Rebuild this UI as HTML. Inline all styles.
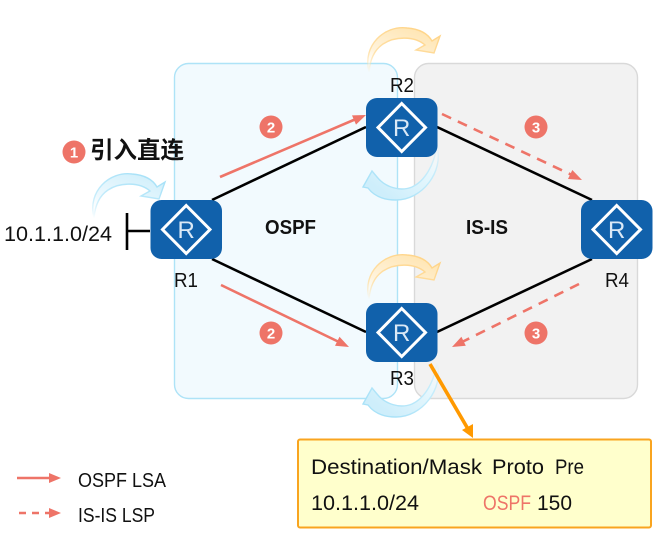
<!DOCTYPE html>
<html><head><meta charset="utf-8">
<style>
html,body{margin:0;padding:0;background:#fff;width:672px;height:556px;overflow:hidden}
svg{display:block}
text{font-family:"Liberation Sans","Noto Sans CJK SC",sans-serif;fill:#111}
</style></head>
<body>
<svg width="672" height="556" viewBox="0 0 672 556" xmlns="http://www.w3.org/2000/svg">
<defs>
<linearGradient id="og" x1="0" y1="1" x2="0.6" y2="0"><stop offset="0" stop-color="#fff" stop-opacity="0"/><stop offset="0.4" stop-color="#fff3dc"/><stop offset="1" stop-color="#ffe6b5"/></linearGradient>
<linearGradient id="os" x1="0" y1="1" x2="0.6" y2="0"><stop offset="0" stop-color="#ffd98f" stop-opacity="0"/><stop offset="0.4" stop-color="#ffe0a6"/><stop offset="1" stop-color="#ffd58a"/></linearGradient>
<linearGradient id="bg1" x1="0" y1="1" x2="0.6" y2="0"><stop offset="0" stop-color="#fff" stop-opacity="0"/><stop offset="0.4" stop-color="#eef9fe"/><stop offset="1" stop-color="#d3f0fb"/></linearGradient>
<linearGradient id="bs1" x1="0" y1="1" x2="0.6" y2="0"><stop offset="0" stop-color="#a9e2f8" stop-opacity="0"/><stop offset="0.4" stop-color="#c4ecfb"/><stop offset="1" stop-color="#a9e2f8"/></linearGradient>
<linearGradient id="bg2" x1="1" y1="0" x2="0.2" y2="0.8"><stop offset="0" stop-color="#fff" stop-opacity="0"/><stop offset="0.4" stop-color="#e6f7fd"/><stop offset="1" stop-color="#ceeefb"/></linearGradient>
<linearGradient id="bs2" x1="1" y1="0" x2="0.2" y2="0.8"><stop offset="0" stop-color="#a9e2f8" stop-opacity="0"/><stop offset="0.4" stop-color="#c4ecfb"/><stop offset="1" stop-color="#a9e2f8"/></linearGradient>
<g id="router">
<rect x="0" y="0" width="71.5" height="59" rx="11" fill="#1161ab"/>
<polygon points="35.7,5.5 59.5,29.5 35.7,53.5 12,29.5" fill="none" stroke="#fff" stroke-width="3"/>
<text x="35.7" y="38" font-size="24" text-anchor="middle" style="fill:#dbe9f6">R</text>
</g>
<path id="up" d="M369,72 C362,45 385,25 407,28 C420,29 428,34 432,41 L440,36 L434,53 L416,50 L425,45 C415,36 395,36 383,44 C374,50 370,60 369,72Z"/>
<path id="down" d="M437,146 C444,172 422,200 396,200 C384,200 374,196 368,188 L363,187 L372,171 L377,177 C385,187 400,192 412,187 C425,181 434,165 437,146Z"/>
</defs>

<rect x="174.5" y="63.5" width="223" height="335" rx="14" fill="#f2fafe" stroke="#aee3f7" stroke-width="1.4"/>
<rect x="414.5" y="63.5" width="223" height="335" rx="14" fill="#f2f2f2" stroke="#d9d9d9" stroke-width="1.4"/>

<g stroke="#000" stroke-width="2.6" fill="none">
<line x1="212" y1="200" x2="366" y2="127"/>
<line x1="212" y1="259" x2="366" y2="332"/>
<line x1="437" y1="127" x2="592" y2="200"/>
<line x1="437" y1="332" x2="592" y2="259"/>
<line x1="127" y1="213" x2="127" y2="250"/>
<line x1="127" y1="231" x2="150" y2="231"/>
</g>

<use href="#up" fill="url(#og)" stroke="url(#os)" stroke-width="1.4"/>
<use href="#up" y="227" fill="url(#og)" stroke="url(#os)" stroke-width="1.4"/>
<use href="#up" x="-275" y="146" fill="url(#bg1)" stroke="url(#bs1)" stroke-width="1.4"/>
<use href="#down" fill="url(#bg2)" stroke="url(#bs2)" stroke-width="1.4"/>

<use href="#router" x="150.5" y="200"/>
<use href="#router" x="366" y="98"/>
<use href="#router" x="366" y="303"/>
<use href="#router" x="581" y="200"/>

<use href="#down" y="217" fill="url(#bg2)" stroke="url(#bs2)" stroke-width="1.4"/>

<!-- pink arrows -->
<g stroke="#ee7468" stroke-width="2.6" fill="#ee7468">
<line x1="220" y1="177" x2="356" y2="119"/>
<line x1="221" y1="285" x2="339" y2="342"/>
<line x1="442" y1="114" x2="572" y2="175" stroke-dasharray="10 7.5"/>
<line x1="579" y1="284" x2="462" y2="342" stroke-dasharray="10 7.5"/>
<line x1="17" y1="478" x2="50" y2="478"/>
<line x1="17" y1="513" x2="50" y2="513" stroke-dasharray="7 6" stroke-dashoffset="-2"/>
</g>
<g fill="#ee7468">
<polygon points="366,115 356,124.6 352,115.4"/>
<polygon points="349,347 335,345.8 339.5,336.8"/>
<polygon points="582,180 568,179 572.3,170"/>
<polygon points="452,347 465.8,345.7 461.4,336.7"/>
<polygon points="61,478 49,473 49,483"/>
<polygon points="61,513 49,508 49,518"/>
</g>

<!-- badges -->
<g fill="#ee7468">
<circle cx="74" cy="152" r="11.5"/>
<circle cx="271" cy="127" r="11.5"/>
<circle cx="271" cy="333" r="11.5"/>
<circle cx="536" cy="127" r="11.5"/>
<circle cx="536" cy="333" r="11.5"/>
</g>
<g font-size="15" font-weight="bold" text-anchor="middle">
<text x="74" y="157.5" style="fill:#fff">1</text>
<text x="271" y="132.5" style="fill:#fff">2</text>
<text x="271" y="338.5" style="fill:#fff">2</text>
<text x="536" y="132.5" style="fill:#fff">3</text>
<text x="536" y="338.5" style="fill:#fff">3</text>
</g>

<text x="90" y="158" font-size="23.5" font-weight="bold" textLength="94" lengthAdjust="spacingAndGlyphs">引入直连</text>
<text x="4" y="241" font-size="21" textLength="108" lengthAdjust="spacingAndGlyphs">10.1.1.0/24</text>
<text x="174" y="287" font-size="20" textLength="24" lengthAdjust="spacingAndGlyphs">R1</text>
<text x="390" y="92" font-size="20" textLength="24" lengthAdjust="spacingAndGlyphs">R2</text>
<text x="390" y="385" font-size="20" textLength="24" lengthAdjust="spacingAndGlyphs">R3</text>
<text x="605" y="287" font-size="20" textLength="24" lengthAdjust="spacingAndGlyphs">R4</text>
<text x="265" y="234" font-size="20" font-weight="bold" textLength="51" lengthAdjust="spacingAndGlyphs">OSPF</text>
<text x="466" y="234" font-size="20" font-weight="bold" textLength="42" lengthAdjust="spacingAndGlyphs">IS-IS</text>

<!-- callout -->
<line x1="430" y1="364" x2="468" y2="429" stroke="#ff9900" stroke-width="3.6"/>
<polygon points="473,438 462,430 473,424" fill="#ff9900"/>
<rect x="298" y="439.5" width="353" height="88" rx="2" fill="#ffffcc" stroke="#f9a41f" stroke-width="2"/>
<text x="311" y="474" font-size="21" textLength="171" lengthAdjust="spacingAndGlyphs">Destination/Mask</text>
<text x="492" y="474" font-size="21" textLength="52" lengthAdjust="spacingAndGlyphs">Proto</text>
<text x="555" y="474" font-size="21" textLength="29" lengthAdjust="spacingAndGlyphs">Pre</text>
<text x="311" y="510" font-size="21" textLength="108" lengthAdjust="spacingAndGlyphs">10.1.1.0/24</text>
<text x="483" y="510" font-size="21" textLength="48" lengthAdjust="spacingAndGlyphs" style="fill:#ee7468">OSPF</text>
<text x="537" y="510" font-size="21" textLength="35" lengthAdjust="spacingAndGlyphs">150</text>

<text x="78" y="487" font-size="20" textLength="88" lengthAdjust="spacingAndGlyphs">OSPF LSA</text>
<text x="78" y="522" font-size="20" textLength="77" lengthAdjust="spacingAndGlyphs">IS-IS LSP</text>
</svg>
</body></html>
